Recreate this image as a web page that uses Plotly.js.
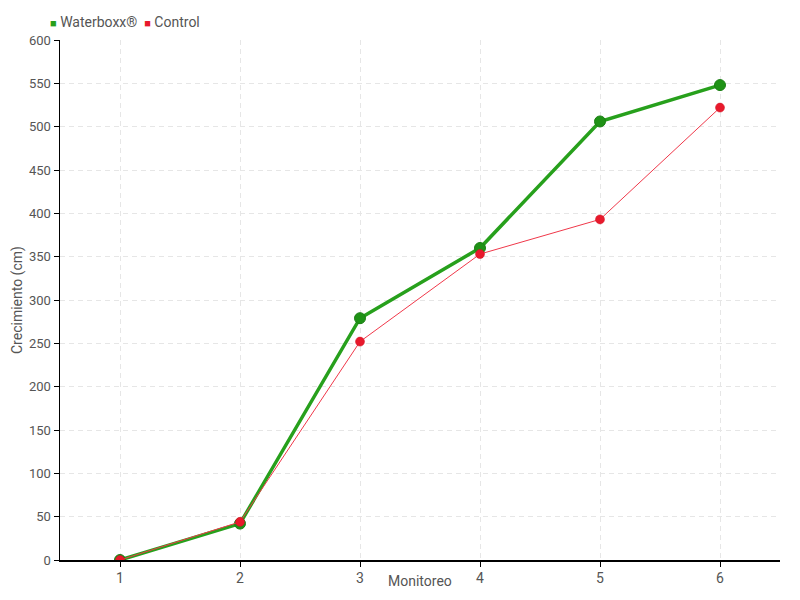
<!DOCTYPE html>
<html>
<head>
<meta charset="utf-8">
<script src="https://cdn.plot.ly/plotly-3.0.1.min.js"></script>
<style>html,body{margin:0;padding:0;background:#fff;}#chart{width:800px;height:600px;}</style>
</head>
<body>
<div id="chart"></div>
<script>
const monitoreo = [1, 2, 3, 4, 5, 6];
const waterboxx = [0, 42, 279, 360, 506, 548];
const control = [0, 44, 252, 353, 393, 522];
const yTicks = [0, 50, 100, 150, 200, 250, 300, 350, 400, 450, 500, 550, 600];
const seriesNames = ['Waterboxx®', 'Control'];
const xTitle = 'Monitoreo';
const yTitle = 'Crecimiento (cm)';

const FONT = 'Roboto, "Liberation Sans", sans-serif';
const GREEN = '#27a01c';
const GREEN_DARK = '#1b7f14';
const RED = '#e8192c';
const TXT = '#555';

const traces = [
  {
    x: monitoreo, y: waterboxx, type: 'scatter', mode: 'lines+markers',
    name: seriesNames[0], showlegend: false,
    line: {color: GREEN, width: 3.5},
    marker: {color: '#1f9216', size: 11, line: {color: GREEN_DARK, width: 1}}
  },
  {
    x: monitoreo, y: control, type: 'scatter', mode: 'lines+markers',
    name: seriesNames[1], showlegend: false,
    line: {color: '#f0384a', width: 1},
    marker: {color: RED, size: 9, line: {color: '#d01020', width: 0.5}}
  }
];

const sq = c => '<span style="color:' + c + ';font-size:11px">■</span> ';
const legendText = sq(GREEN) + seriesNames[0] + '  ' + sq(RED) + seriesNames[1];

const layout = {
  width: 800, height: 600,
  margin: {l: 60, r: 20, t: 40, b: 40},
  paper_bgcolor: '#fff', plot_bgcolor: '#fff',
  font: {family: FONT, size: 14, color: TXT},
  showlegend: false,
  annotations: [
    {
      xref: 'paper', yref: 'paper', x: -0.017, y: 1.0, yshift: 18,
      xanchor: 'left', yanchor: 'middle', showarrow: false,
      text: legendText, font: {family: FONT, size: 14, color: TXT}
    },
    {
      xref: 'paper', yref: 'paper', x: 0.5, y: 0, yshift: -21,
      xanchor: 'center', yanchor: 'middle', showarrow: false,
      text: xTitle, font: {family: FONT, size: 14, color: TXT}
    },
    {
      xref: 'paper', yref: 'paper', x: 0, xshift: -43, y: 0.5,
      xanchor: 'center', yanchor: 'middle', showarrow: false, textangle: -90,
      text: yTitle, font: {family: FONT, size: 14, color: TXT}
    }
  ],
  xaxis: {
    range: [0.5, 6.5], tickvals: monitoreo, ticktext: monitoreo.map(String),
    showline: true, linecolor: '#000', linewidth: 1.5,
    ticks: 'outside', ticklen: 5, tickcolor: '#000', tickwidth: 1,
    showgrid: true, gridcolor: '#e6e6e6', griddash: '5px,4px', gridwidth: 1,
    zeroline: false, automargin: false,
    tickfont: {family: FONT, size: 14, color: TXT}
  },
  yaxis: {
    range: [0, 600], tickvals: yTicks,
    showline: true, linecolor: '#000', linewidth: 1.5,
    ticks: 'outside', ticklen: 5, tickcolor: '#000', tickwidth: 1,
    showgrid: true, gridcolor: '#e6e6e6', griddash: '5px,4px', gridwidth: 1,
    zeroline: false, automargin: false,
    tickfont: {family: FONT, size: 13, color: TXT}
  }
};

Plotly.newPlot('chart', traces, layout, {displayModeBar: false, staticPlot: true});
</script>
</body>
</html>
